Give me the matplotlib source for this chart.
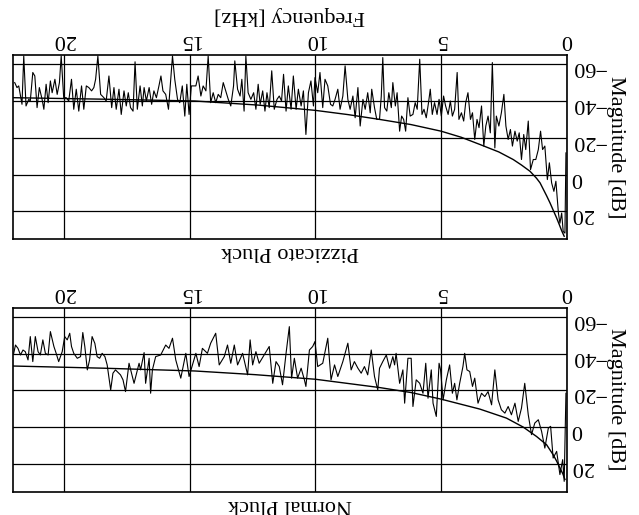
import matplotlib
matplotlib.use("Agg")
import matplotlib.pyplot as plt

plt.rcParams['font.family'] = ['Liberation Serif', 'DejaVu Serif']

# ---------------- data (frequency in kHz, magnitude in dB) ----------------
freq_ticks = [0, 5, 10, 15, 20]
mag_ticks = [-60, -40, -20, 0, 20]

pizz_f = [0.03, 0.07, 0.14, 0.20, 0.27, 0.33, 0.43, 0.51, 0.60, 0.69,
          0.77, 0.87, 0.96, 1.04, 1.13, 1.23, 1.33, 1.44, 1.53, 1.63,
          1.71, 1.80, 1.89, 1.97, 2.06, 2.16, 2.24, 2.33, 2.42, 2.50,
          2.60, 2.70, 2.80, 2.86, 2.96, 3.04, 3.13, 3.22, 3.30, 3.39,
          3.49, 3.57, 3.66, 3.75, 3.83, 3.93, 4.02, 4.10, 4.19, 4.29,
          4.36, 4.46, 4.55, 4.63, 4.72, 4.82, 4.90, 4.99, 5.08, 5.16,
          5.26, 5.35, 5.43, 5.50, 5.59, 5.68, 5.76, 5.85, 5.95, 6.03,
          6.12, 6.23, 6.32, 6.41, 6.49, 6.57, 6.65, 6.75, 6.82, 6.92,
          6.98, 7.08, 7.16, 7.25, 7.32, 7.38, 7.45,
          7.56, 7.65, 7.76, 7.82, 7.92, 8.02, 8.11, 8.22, 8.31, 8.42,
          8.51, 8.62, 8.71, 8.82, 8.91, 9.02, 9.11, 9.22, 9.31, 9.40,
          9.51, 9.62, 9.71, 9.82, 9.91, 10.02, 10.08, 10.18, 10.28, 10.38,
          10.48, 10.57, 10.68, 10.77, 10.88, 10.97, 11.08, 11.17, 11.27, 11.35,
          11.44, 11.53, 11.64, 11.74, 11.84, 11.93, 12.01, 12.10, 12.20, 12.28,
          12.37, 12.46, 12.57, 12.68, 12.77, 12.84, 12.93, 13.00, 13.10, 13.21,
          13.26, 13.37, 13.47, 13.57, 13.67, 13.77, 13.87, 13.97, 14.07, 14.17,
          14.27, 14.36, 14.47, 14.56, 14.67, 14.76,
          14.94, 15.03, 15.12, 15.20, 15.30, 15.40, 15.49, 15.60, 15.69, 15.76,
          15.85, 15.96, 16.07, 16.15, 16.23, 16.33, 16.43, 16.52, 16.62, 16.73,
          16.82, 16.89, 16.98, 17.09, 17.18, 17.26, 17.36, 17.45, 17.53, 17.62,
          17.73, 17.82, 17.93, 18.02, 18.11, 18.22, 18.33, 18.42, 18.55, 18.66,
          18.75, 18.82, 18.91, 19.02, 19.12, 19.22, 19.31, 19.42, 19.52, 19.62,
          19.71, 19.82, 19.92, 20.02, 20.12, 20.19, 20.28, 20.37, 20.48, 20.55,
          20.64, 20.72, 20.81, 20.88, 20.99, 21.08, 21.17, 21.25, 21.35, 21.41,
          21.52, 21.61, 21.68, 21.74, 21.81, 21.88, 21.97]
pizz_db = [-11.8, 31.8, 30.9, 20.9, 26.4, 20.9, 3.6, 9.1, 4.5, -6.4,
           2.7, -15.5, -13.6, -23.6, -13.6, -8.2, -8.2, -2.7, -29.1, -13.6,
           -21.8, -8.2, -22.7, -18.2, -23.6, -15.5, -24.5, -19.1, -26.4, -43.6,
           -33.6, -26.4, -31.8, -14.5, -60.9, -22.7, -31.8, -26.4, -15.5, -37.3,
           -25.5, -30.0, -19.1, -33.6, -30.0, -44.5, -39.1, -29.1, -33.6, -30.0,
           -55.5, -35.5, -31.8, -40.0, -32.7, -37.3, -42.7, -31.8, -40.9, -32.7,
           -39.1, -32.7, -46.4, -39.1, -30.9, -35.5, -32.7, -62.7, -35.5, -39.1,
           -32.7, -31.8, -41.8, -23.6, -30.0, -31.8, -23.6, -44.5, -37.3, -50.0,
           -36.4, -44.5, -34.5, -36.4, -63.6, -42.7, -30.0,
           -30.0, -36.4, -46.4, -33.6, -44.5, -35.5, -40.9, -26.4, -47.3, -30.9,
           -42.7, -35.5, -40.9, -59.1, -42.7, -35.5, -46.4, -40.9, -37.3, -38.2,
           -48.2, -51.8, -36.4, -55.5, -44.5, -52.7, -37.3, -50.9, -44.5, -21.8,
           -45.5, -37.3, -46.4, -35.5, -53.6, -35.5, -48.2, -34.5, -54.5, -40.0,
           -42.7, -40.9, -35.5, -56.4, -36.4, -44.5, -34.5, -45.5, -38.2, -49.1,
           -35.5, -44.5, -40.9, -44.5, -64.5, -34.5, -51.8, -42.7, -46.4, -61.8,
           -48.2, -37.3, -40.9, -45.5, -50.0, -41.8, -43.6, -39.1, -44.5, -39.1,
           -64.5, -45.5, -48.2, -42.7, -53.6, -48.2,
           -48.2, -32.7, -49.1, -31.8, -48.2, -39.1, -40.9, -51.8, -64.5, -51.8,
           -35.5, -43.6, -45.5, -53.6, -48.2, -41.8, -45.5, -38.2, -47.3, -40.0,
           -47.3, -37.3, -48.2, -35.5, -61.3, -34.5, -36.4, -44.5, -37.3, -45.5,
           -32.7, -46.4, -35.5, -47.3, -36.4, -53.6, -40.0, -41.8, -43.6, -64.5,
           -51.8, -47.3, -45.5, -47.3, -48.2, -35.5, -48.2, -34.5, -46.4, -35.5,
           -51.8, -40.0, -41.8, -41.8, -64.5, -50.0, -43.6, -51.8, -44.5, -50.9,
           -39.1, -49.1, -35.5, -40.9, -47.3, -36.4, -53.6, -55.5, -40.0, -40.9,
           -37.3, -64.5, -38.2, -42.7, -48.2, -47.3, -50.0]

pizz_fit_f = [0.10, 0.15, 0.2, 0.3, 0.4, 0.5, 0.66, 0.8, 1.06, 1.2, 1.46, 1.8,
              2.13, 2.7, 3.46, 4.2, 5.0, 6.2, 7.45, 8.7, 10.0, 12.3, 14.8,
              18.5, 22.05]
pizz_fit_db = [33.5, 32.0, 30.5, 27.0, 23.6, 20.5, 15.5, 11.5, 4.5, 2.0, -1.8,
               -5.2, -8.2, -12.3, -16.4, -20.3, -23.6, -27.2, -30.0, -32.6,
               -34.9, -37.8, -40.0, -41.0, -41.8]

norm_f = [0.03, 0.10, 0.16, 0.27, 0.40, 0.54, 0.64, 0.73, 0.87, 1.00,
          1.13, 1.27, 1.40, 1.53, 1.67, 1.80, 1.93, 2.06, 2.20, 2.33,
          2.46, 2.60, 2.73, 2.86, 2.99, 3.13, 3.26, 3.39, 3.53, 3.66,
          3.75, 3.86, 3.97, 4.06, 4.13, 4.26, 4.37, 4.46, 4.55, 4.66,
          4.79, 4.92, 5.02, 5.08, 5.19, 5.32, 5.39, 5.52, 5.61, 5.72,
          5.85, 5.99, 6.12, 6.19, 6.32, 6.45, 6.52, 6.65, 6.79, 6.85,
          6.92, 7.05, 7.18, 7.32, 7.45,
          7.52, 7.65, 7.78, 7.92, 8.05, 8.18, 8.31, 8.45, 8.58, 8.71,
          8.91, 9.11, 9.24, 9.38, 9.51, 9.71, 9.91, 10.02, 10.11, 10.24,
          10.38, 10.44, 10.57, 10.71, 10.84, 10.95, 11.04, 11.17, 11.31, 11.44,
          11.57, 11.70, 11.84, 12.04, 12.24, 12.37, 12.50, 12.60, 12.70, 12.90,
          13.10, 13.23, 13.37, 13.50, 13.63, 13.83, 13.97, 14.17, 14.30, 14.50,
          14.63, 14.76,
          15.03, 15.16, 15.36, 15.56, 15.69, 15.83, 15.96, 16.16, 16.36, 16.49,
          16.56, 16.62, 16.76, 16.82, 16.96, 17.02, 17.22, 17.42, 17.56, 17.66,
          17.76, 17.96, 18.06, 18.15, 18.29, 18.38, 18.49, 18.59, 18.69, 18.78,
          18.89, 18.99, 19.08, 19.18, 19.26, 19.35, 19.48, 19.62, 19.71, 19.78,
          19.88, 19.98, 20.08, 20.22, 20.32, 20.41, 20.55, 20.64, 20.75, 20.85,
          20.95, 21.04, 21.15, 21.25, 21.35, 21.44, 21.55, 21.64, 21.74, 21.84,
          21.94, 22.01]
norm_db = [-18.4, 29.5, 17.7, 25.8, 13.2, 16.8, -0.4, 0.5, 11.4, 2.3,
           -4.0, -2.2, 4.1, -6.7, -23.8, -10.3, -3.1, -13.0, -6.7, -11.2,
           -7.6, -9.4, -14.8, -31.1, -12.1, -19.3, -16.6, -18.4, -13.0, -26.6,
           -22.1, -30.2, -31.1, -40.1, -32.9, -23.8, -14.8, -23.8, -18.4, -33.8,
           -25.7, -14.8, -31.1, -34.7, -5.8, -13.0, -31.1, -15.7, -34.7, -18.4,
           -23.8, -25.7, -11.2, -37.4, -37.4, -13.0, -31.1, -23.8, -40.1, -33.8,
           -38.3, -32.0, -39.2, -35.6, -32.0,
           -20.2, -27.5, -41.9, -28.4, -32.9, -29.3, -32.0, -35.6, -31.1, -45.6,
           -35.6, -27.5, -33.8, -25.7, -48.3, -34.7, -32.9, -46.5, -43.8, -41.9,
           -22.1, -25.7, -32.0, -26.6, -37.4, -26.6, -54.6, -40.1, -23.0, -32.9,
           -35.6, -23.8, -43.8, -39.2, -34.7, -41.0, -33.8, -47.4, -28.4, -40.1,
           -33.8, -44.6, -34.7, -44.6, -38.3, -33.8, -51.0, -45.6, -40.1, -42.8,
           -32.9, -40.1,
           -27.5, -40.1, -26.6, -36.5, -48.3, -42.8, -44.6, -39.2, -38.3, -31.1,
           -18.4, -37.4, -23.8, -40.5, -31.1, -34.7, -23.8, -34.7, -19.3, -25.7,
           -28.4, -31.1, -29.3, -20.2, -33.8, -38.3, -40.1, -37.4, -38.3, -45.5,
           -49.2, -36.5, -31.1, -43.8, -51.4, -38.3, -37.4, -40.1, -43.8, -51.0,
           -47.4, -49.2, -41.0, -35.6, -40.1, -43.8, -51.9, -39.2, -40.1, -47.4,
           -39.2, -41.0, -49.2, -35.6, -49.2, -36.5, -41.0, -41.9, -39.2, -42.8,
           -44.6, -40.1]

norm_fit_f = [0.07, 0.15, 0.27, 0.4, 0.54, 0.8, 1.2, 1.73, 2.4, 3.46, 5.0,
              6.2, 7.45, 10.0, 12.4, 14.8, 18.4, 22.05]
norm_fit_db = [28.5, 25.5, 22.2, 18.5, 15.0, 9.6, 5.1, 0.0, -4.9, -9.8, -15.2,
               -18.8, -21.5, -26.0, -28.5, -30.5, -32.0, -33.2]

titles = ["Pizzicato Pluck", "Normal Pluck"]
xlabel = "Frequency [kHz]"
ylabel = "Magnitude [dB]"

# ---------------- figure (drawn turned by 180 degrees, like the reference) --
W, H = 639, 515
fig = plt.figure(figsize=(W / 100, H / 100), dpi=100)

left = 12.7 / W
width = 554.0 / W
axes_rect = [
    [left, (H - 239.0) / H, width, 184.0 / H],
    [left, (H - 491.5) / H, width, 184.0 / H],
]
series = [(pizz_f, pizz_db, pizz_fit_f, pizz_fit_db),
          (norm_f, norm_db, norm_fit_f, norm_fit_db)]

FS = 16
for rect, (f, db, ff, fdb), title in zip(axes_rect, series, titles):
    ax = fig.add_axes(rect)
    ax.plot(f, db, color='black', lw=0.8)
    ax.plot(ff, fdb, color='black', lw=1.0)
    ax.set_xlim(22.05, 0)
    ax.set_ylim(35, -65)
    ax.set_xticks(freq_ticks)
    ax.set_yticks(mag_ticks)
    ax.xaxis.tick_top()
    ax.yaxis.tick_right()
    ax.tick_params(axis='both', length=0, labelsize=FS, labelrotation=180)
    ax.tick_params(axis='x', pad=4)
    ax.tick_params(axis='y', pad=3)
    ax.grid(True, color='black', lw=0.9)
    ax.set_axisbelow(True)
    for sp in ax.spines.values():
        sp.set_linewidth(1.2)
    ax.text(0.5, -0.068, title, transform=ax.transAxes, rotation=180,
            ha='center', va='center', fontsize=FS)
    ax.text(1.0 + (616 - 566.7) / 554.0, 0.5, ylabel, transform=ax.transAxes,
            rotation=270, ha='center', va='center', fontsize=FS)

fig.text(289.7 / W, 1 - 15.0 / H, xlabel, rotation=180, ha='center',
         va='center', fontsize=FS)

fig.savefig("out.png", dpi=100)
